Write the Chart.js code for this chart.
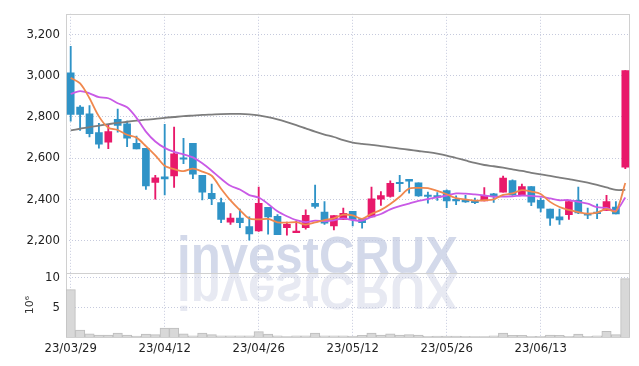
<!DOCTYPE html>
<html><head><meta charset="utf-8">
<script src="https://cdn.jsdelivr.net/npm/chart.js@4/dist/chart.umd.min.js"></script>
<style>html,body{margin:0;padding:0;background:#fff;}#wrap{position:relative;width:639px;height:366px;}</style>
</head><body><div id="wrap"><canvas id="c" width="639" height="366"></canvas></div>
<script>
const dates = ['23/03/29','23/03/30','23/03/31','23/04/03','23/04/04','23/04/05','23/04/06','23/04/07','23/04/10','23/04/11',
'23/04/12','23/04/13','23/04/14','23/04/17','23/04/18','23/04/19','23/04/20','23/04/21','23/04/24','23/04/25',
'23/04/26','23/04/27','23/04/28','23/05/02','23/05/03','23/05/04','23/05/08','23/05/09','23/05/10','23/05/11',
'23/05/12','23/05/15','23/05/16','23/05/17','23/05/18','23/05/19','23/05/22','23/05/23','23/05/24','23/05/25',
'23/05/26','23/05/30','23/05/31','23/06/01','23/06/02','23/06/05','23/06/07','23/06/08','23/06/09','23/06/12',
'23/06/13','23/06/14','23/06/15','23/06/16','23/06/19','23/06/20','23/06/21','23/06/22','23/06/23','23/06/26'];
const tickDates = ['23/03/29','23/04/12','23/04/26','23/05/12','23/05/26','23/06/13'];
const priceTicks = [2200,2400,2600,2800,3000,3200];
const volTicks = [5,10];

const openP = [3014,2847,2814,2723,2677,2788,2766,2671,2647,2481,2508,2513,2599,2671,2516,2429,2384,2289,2308,2267,
2246,2360,2317,2262,2238,2262,2380,2337,2270,2302,2341,2306,2314,2400,2413,2481,2496,2480,2418,2416,
2442,2397,2394,2387,2392,2426,2434,2491,2421,2461,2395,2352,2314,2325,2394,2329,2337,2346,2362,2556];
const highP = [3142,2855,2855,2768,2760,2838,2779,2707,2647,2516,2763,2750,2695,2671,2516,2474,2405,2330,2352,2314,
2459,2360,2325,2289,2292,2349,2469,2389,2321,2357,2341,2306,2459,2437,2489,2516,2496,2480,2435,2432,
2445,2416,2419,2405,2456,2429,2512,2494,2473,2461,2405,2352,2352,2389,2459,2357,2376,2419,2389,3024];
const lowP = [2779,2734,2702,2648,2645,2726,2655,2644,2448,2400,2421,2457,2572,2500,2397,2373,2286,2278,2262,2201,
2244,2230,2228,2225,2238,2254,2357,2278,2251,2302,2270,2259,2314,2370,2410,2437,2429,2413,2381,2394,
2359,2373,2384,2378,2392,2384,2434,2418,2421,2368,2338,2273,2278,2302,2330,2306,2306,2346,2329,2548];
const closeP = [2811,2811,2718,2667,2728,2758,2696,2644,2465,2504,2499,2620,2594,2521,2434,2403,2302,2308,2286,2232,
2380,2314,2228,2278,2244,2322,2365,2284,2321,2332,2302,2286,2402,2418,2477,2475,2488,2416,2413,2410,
2392,2392,2387,2383,2419,2416,2502,2421,2461,2386,2357,2308,2300,2389,2333,2322,2330,2389,2329,3024];
const ma5 = [2989,2962,2890,2802,2747,2736,2713,2699,2658,2613,2562,2546,2536,2548,2534,2514,2451,2394,2347,2306,
2302,2304,2288,2286,2289,2277,2287,2299,2307,2325,2321,2305,2329,2348,2377,2412,2452,2455,2454,2440,
2424,2405,2399,2393,2395,2399,2421,2428,2444,2437,2425,2387,2362,2348,2337,2330,2335,2353,2341,2479];
const ma10 = [2911,2925,2914,2895,2890,2866,2846,2795,2728,2680,2649,2630,2618,2603,2574,2538,2499,2465,2447,2420,
2408,2377,2341,2317,2298,2289,2296,2293,2297,2307,2299,2296,2314,2328,2351,2366,2379,2392,2401,2409,
2418,2428,2427,2423,2418,2412,2413,2414,2418,2416,2412,2404,2395,2396,2387,2378,2361,2358,2344,2408];
const maLong = [2734,2742,2750,2757,2764,2771,2776,2781,2786,2790,2795,2799,2803,2806,2809,2811,2813,2814,2814,2812,
2807,2798,2787,2774,2760,2744,2728,2714,2702,2687,2675,2669,2664,2658,2652,2646,2640,2634,2628,2621,
2612,2600,2588,2576,2566,2560,2553,2545,2537,2528,2520,2513,2505,2497,2489,2480,2469,2457,2445,2445];
const volumeM = [8.0,1.17,0.55,0.33,0.33,0.67,0.33,0.17,0.5,0.4,1.5,1.5,0.55,0.2,0.67,0.4,0.2,0.2,0.2,0.2,
0.9,0.5,0.2,0.05,0.2,0.2,0.67,0.2,0.2,0.2,0.17,0.3,0.67,0.33,0.55,0.33,0.4,0.33,0.1,0.17,
0.17,0.17,0.1,0.05,0.05,0.2,0.67,0.3,0.3,0.1,0.1,0.33,0.3,0.1,0.5,0.1,0.2,0.95,0.4,9.83];

const UP = '#e8196a', DOWN = '#2f93c7';
const candleColors = closeP.map((c, i) => c >= openP[i] ? UP : DOWN);
const GRID = '#c6cadd';
const tickFont = {family: "'DejaVu Sans Condensed', 'DejaVu Sans', sans-serif", size: 13, weight: 'normal'};

const watermark = {
  id: 'wm',
  beforeDraw(chart) {
    const ctx = chart.ctx, a = chart.chartArea, base = chart.scales.y.bottom;
    const txt = 'investCRUX';
    ctx.save();
    ctx.font = "bold 51px 'Liberation Sans', Arial, sans-serif";
    const w = ctx.measureText(txt).width;
    const sx = 281 / w;
    ctx.translate(a.left + 111, base);
    ctx.scale(sx, 1);
    ctx.textBaseline = 'alphabetic';
    ctx.fillStyle = '#d3d9ea';
    ctx.fillText(txt, 0, 0);
    ctx.scale(1, -1);
    ctx.fillStyle = '#e7e9f2';
    ctx.fillText(txt, 0, 0);
    ctx.restore();
  }
};
const frame = {
  id: 'frame',
  beforeDatasetsDraw(chart) {
    const ctx = chart.ctx, a = chart.chartArea, yb = chart.scales.y.bottom;
    ctx.save();
    ctx.strokeStyle = '#d0d0d0';
    ctx.lineWidth = 1;
    ctx.strokeRect(Math.round(a.left) + 0.5, Math.round(a.top) + 0.5, Math.round(a.right - a.left) - 1, Math.round(a.bottom - a.top));
    ctx.beginPath();
    ctx.moveTo(a.left, Math.round(yb) + 0.5);
    ctx.lineTo(a.right, Math.round(yb) + 0.5);
    ctx.stroke();
    ctx.restore();
  }
};

new Chart(document.getElementById('c'), {
  type: 'bar',
  data: {
    labels: dates,
    datasets: [
      {type: 'line', data: ma5, yAxisID: 'y', borderColor: '#f0884e', borderWidth: 1.8, pointRadius: 0, tension: 0.3, order: 1},
      {type: 'line', data: ma10, yAxisID: 'y', borderColor: '#c95ae6', borderWidth: 1.8, pointRadius: 0, tension: 0.3, order: 2},
      {type: 'line', data: maLong, yAxisID: 'y', borderColor: '#7d7d7d', borderWidth: 1.8, pointRadius: 0, tension: 0.3, order: 3},
      {data: openP.map((o, i) => [o, closeP[i]]), yAxisID: 'y', backgroundColor: candleColors, barThickness: 7, grouped: false, minBarLength: 1.5, order: 4},
      {data: lowP.map((l, i) => [l, highP[i]]), yAxisID: 'y', backgroundColor: candleColors, barThickness: 1.2, grouped: false, order: 5},
      {data: volumeM, yAxisID: 'yv', backgroundColor: '#d8d8d8', borderColor: '#bdbdbd', borderWidth: 1, barPercentage: 1, categoryPercentage: 1, grouped: false, order: 6}
    ]
  },
  options: {
    responsive: false,
    animation: false,
    layout: {padding: {top: 9, right: 9, left: 0, bottom: 0}},
    plugins: {legend: {display: false}, tooltip: {enabled: false}},
    scales: {
      x: {
        type: 'category', offset: true,
        grid: {color: GRID, drawTicks: false, offset: false},
        border: {display: false, dash: [1, 2]},
        ticks: {autoSkip: false, maxRotation: 0, padding: 4, color: '#222', font: tickFont,
          callback: (v, i) => tickDates.includes(dates[i]) ? dates[i] : null},
        afterFit: s => { s.height = 29; }
      },
      y: {
        type: 'linear', position: 'left', stack: 'main', stackWeight: 263, weight: 1,
        min: 2042, max: 3300,
        afterBuildTicks: s => { s.ticks = priceTicks.map(v => ({value: v})); },
        grid: {color: GRID, drawTicks: false},
        border: {display: false, dash: [1, 2]},
        ticks: {padding: 6, color: '#222', font: tickFont, callback: v => v.toLocaleString('en-US')},
        afterFit: s => { s.width = 66; }
      },
      yv: {
        type: 'linear', position: 'left', stack: 'main', stackWeight: 65, weight: 0,
        min: 0, max: 10.8,
        afterBuildTicks: s => { s.ticks = volTicks.map(v => ({value: v})); },
        grid: {color: GRID, drawTicks: false},
        border: {display: false, dash: [1, 2]},
        ticks: {padding: 6, color: '#222', font: tickFont, callback: v => String(v)},
        title: {display: true, text: '10⁶', color: '#333', font: {family: "'DejaVu Sans', sans-serif", size: 11}, padding: {top: 24, bottom: 0}},
        afterFit: s => { s.width = 66; }
      }
    }
  },
  plugins: [watermark, frame]
});
</script>
</body></html>
